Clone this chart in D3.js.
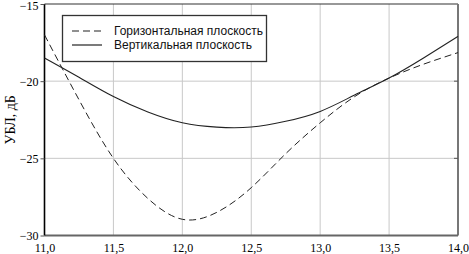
<!DOCTYPE html>
<html><head><meta charset="utf-8">
<script src="https://cdn.jsdelivr.net/npm/d3@7"></script>
<style>body{margin:0;background:#fff;}svg{display:block;}</style>
</head><body>
<script>
const xValues = [11.0, 11.25, 11.5, 11.75, 12.0, 12.25, 12.5, 12.75, 13.0, 13.25, 13.5, 13.75, 14.0];
const horizontal = [-17.0, -21.2, -25.0, -27.6, -28.95, -28.5, -26.9, -24.7, -22.7, -21.0, -19.8, -18.9, -18.15];
const vertical = [-18.5, -19.75, -21.0, -22.0, -22.7, -22.98, -22.97, -22.6, -21.96, -20.9, -19.8, -18.5, -17.1];
const seriesNames = ["Горизонтальная плоскость", "Вертикальная плоскость"];
const xTicks = [11.0, 11.5, 12.0, 12.5, 13.0, 13.5, 14.0];
const yTicks = [-30, -25, -20, -15];
const yLabel = "УБЛ, дБ";

const SERIF = "'Liberation Serif', 'Times New Roman', Times, 'DejaVu Serif', serif";
const SANS = "'Liberation Sans', Arial, Helvetica, sans-serif";
const W = 469, H = 254;
const m = {l: 44.5, r: 11, t: 4, b: 18.5};
const svg = d3.select("body").append("svg").attr("width", W).attr("height", H);
const x = d3.scaleLinear().domain([11, 14]).range([m.l, W - m.r]);
const y = d3.scaleLinear().domain([-30, -15]).range([H - m.b, m.t]);
const fmt = d => d.toFixed(1).replace(".", ",");

svg.append("g").selectAll("line").data(xTicks.slice(1, -1)).join("line")
  .attr("x1", d => x(d)).attr("x2", d => x(d)).attr("y1", y(-15)).attr("y2", y(-30))
  .attr("stroke", "#c8c8c8").attr("stroke-width", 1);
svg.append("g").selectAll("line").data(yTicks.slice(1, -1)).join("line")
  .attr("x1", x(11)).attr("x2", x(14)).attr("y1", d => y(d)).attr("y2", d => y(d))
  .attr("stroke", "#c8c8c8").attr("stroke-width", 1);

svg.append("line").attr("x1", x(11)).attr("x2", x(14)).attr("y1", y(-15)).attr("y2", y(-15)).attr("stroke", "#333").attr("stroke-width", 1.2);
svg.append("line").attr("x1", x(14)).attr("x2", x(14)).attr("y1", y(-15)).attr("y2", y(-30)).attr("stroke", "#777").attr("stroke-width", 2);
svg.append("line").attr("x1", x(11)).attr("x2", x(14)).attr("y1", y(-30)).attr("y2", y(-30)).attr("stroke", "#666").attr("stroke-width", 2);
svg.append("line").attr("x1", x(11)).attr("x2", x(11)).attr("y1", y(-15)).attr("y2", y(-30)).attr("stroke", "#000").attr("stroke-width", 1.6);

const xAxis = svg.append("g").attr("transform", `translate(0,${y(-30)})`)
  .call(d3.axisBottom(x).tickValues(xTicks).tickFormat(fmt).tickSize(0).tickPadding(8));
xAxis.select(".domain").remove();
xAxis.selectAll("text").style("font-family", SERIF).style("font-size", "12px").attr("fill", "#000");

const yAxis = svg.append("g").attr("transform", `translate(${x(11)},0)`)
  .call(d3.axisLeft(y).tickValues(yTicks).tickFormat(d3.format("d")).tickSize(4).tickPadding(2));
yAxis.select(".domain").remove();
yAxis.selectAll("line").attr("stroke", "#555");
yAxis.selectAll("text").style("font-family", SERIF).style("font-size", "12px").attr("fill", "#000")
  .attr("dy", d => d === -15 ? "0.42em" : "0.32em");

svg.append("g").selectAll("line").data(yTicks.slice(1, -1)).join("line")
  .attr("x1", x(14) - 4).attr("x2", x(14)).attr("y1", d => y(d)).attr("y2", d => y(d)).attr("stroke", "#555");

svg.append("text").attr("transform", `translate(15,${(y(-15)+y(-30))/2}) rotate(-90)`)
  .attr("text-anchor", "middle").style("font-family", SERIF).style("font-size", "14px").text(yLabel);

const line = d3.line().x((d, i) => x(xValues[i])).y(d => y(d)).curve(d3.curveNatural);
svg.append("path").datum(horizontal).attr("d", line).attr("fill", "none").attr("stroke", "#222")
  .attr("stroke-width", 1).attr("stroke-dasharray", "7,4");
svg.append("path").datum(vertical).attr("d", line).attr("fill", "none").attr("stroke", "#222")
  .attr("stroke-width", 1.1);

const lg = svg.append("g");
lg.append("rect").attr("x", 62.5).attr("y", 15.5).attr("width", 204).attr("height", 46)
  .attr("fill", "#fff").attr("stroke", "#333").attr("stroke-width", 1.3);
[0, 1].forEach(i => {
  const yy = 31 + i * 14;
  lg.append("line").attr("x1", 72).attr("x2", 102).attr("y1", yy).attr("y2", yy)
    .attr("stroke", "#222").attr("stroke-width", 1.2).attr("stroke-dasharray", i === 0 ? "7,4" : null);
  lg.append("text").attr("x", 114).attr("y", yy + 4)
    .style("font-family", SANS).style("font-size", "12px").attr("fill", "#111").text(seriesNames[i]);
});
</script>
</body></html>
